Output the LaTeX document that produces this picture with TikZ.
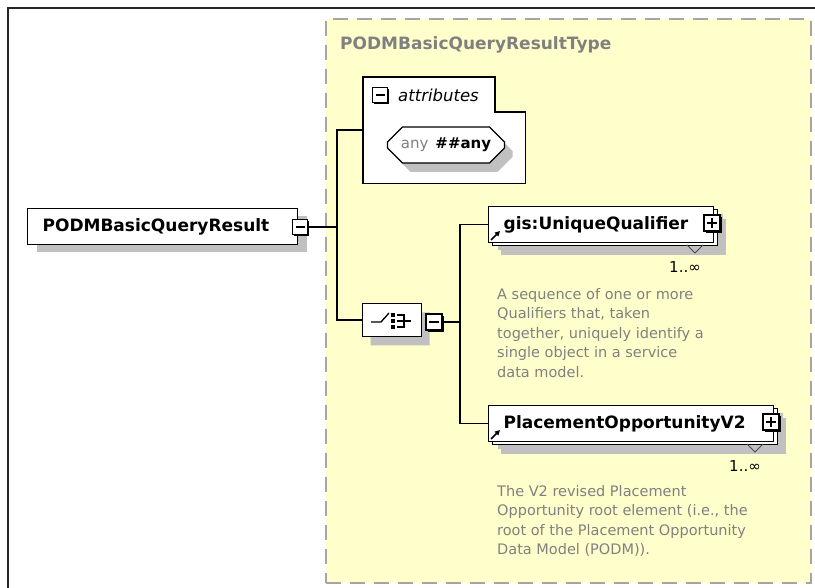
\documentclass[tikz,border=0pt]{standalone}
\usepackage{fontspec}
\setmainfont{DejaVu Sans}
\usetikzlibrary{arrows.meta,positioning,shadows,shapes.misc}

\definecolor{typeYellow}{RGB}{255,255,204}
\definecolor{dashGray}{RGB}{165,165,165}
\definecolor{shadeGray}{RGB}{192,192,192}
\definecolor{noteGray}{RGB}{128,128,128}

\begin{document}
\begin{tikzpicture}[
    x=1pt, y=-1pt,
    >={Triangle[length=5pt,width=5pt]},
    elem/.style={draw,fill=white,line width=1.2pt,anchor=north west,
                 minimum height=36pt,inner xsep=15pt,inner ysep=0pt,align=left,
                 text width=#1,font=\fontsize{17}{20}\selectfont\bfseries,
                 general shadow={fill=shadeGray,shadow xshift=9pt,shadow yshift=-7pt}},
    refelem/.style={elem=#1,
                 general shadow={fill=shadeGray,shadow xshift=12pt,shadow yshift=-12pt},
                 general shadow={fill=white,draw=black,line width=1.2pt,
                                 shadow xshift=4pt,shadow yshift=-3pt}},
    btn/.style={draw,fill=white,line width=1.1pt,minimum size=15pt,inner sep=0pt,
                general shadow={fill=black,shadow xshift=1.8pt,shadow yshift=-1.8pt}},
    minusbtn/.style={btn,path picture={
        \draw[line width=1.1pt] ([xshift=3pt]path picture bounding box.west)
          -- ([xshift=-3pt]path picture bounding box.east);}},
    plusbtn/.style={btn,path picture={
        \draw[line width=1.1pt] ([xshift=3pt]path picture bounding box.west)
          -- ([xshift=-3pt]path picture bounding box.east)
          ([yshift=-3pt]path picture bounding box.north)
          -- ([yshift=3pt]path picture bounding box.south);}},
    octa/.style={chamfered rectangle,chamfered rectangle xsep=8pt,
                 chamfered rectangle ysep=8pt,draw,fill=white,line width=1.2pt,
                 inner sep=0pt,
                 general shadow={fill=shadeGray,shadow xshift=8pt,shadow yshift=-9pt}},
    link/.style={line width=1.4pt},
    refarrow/.style={->,line width=1.6pt},
    note/.style={anchor=north west,align=left,text=noteGray,inner sep=0pt,
                 font=\fontsize{14.5}{19.5}\selectfont},
    mult/.style={font=\fontsize{15}{18}\selectfont,inner sep=0pt},
  ]
  \useasboundingbox (0,0) rectangle (815,588);

  % --- outer frame ---
  \draw[line width=2pt,black!85] (8,588) -- (8,8) -- (815,8);

  % --- complex type ---
  \node[draw=dashGray,fill=typeYellow,line width=2pt,dash pattern=on 15pt off 9pt,
        anchor=north west,minimum width=485pt,minimum height=564pt,inner sep=0pt]
        (ctype) at (325,18) {};
  \node[anchor=west,text=noteGray,inner sep=0pt,font=\fontsize{17}{20}\selectfont\bfseries]
        (ctitle) at (340,45) {PODMBasicQueryResultType};

  % --- root element ---
  \node[elem=240pt,minimum width=270pt] (root) at (27,208) {PODMBasicQueryResult};
  \node[minusbtn] (rootbtn) at (300,227) {};

  % --- attributes ---
  \node[anchor=north west,minimum width=162pt,minimum height=106pt,inner sep=0pt]
        (attrs) at (363,77) {};
  \draw[line width=1.2pt,fill=white] (attrs.north west) -- ++(132,0) -- ++(0,35)
        -- (attrs.east |- 0,112) -- (attrs.south east) -- (attrs.south west) -- cycle;
  \node[minusbtn] (attrbtn) at (380,95) {};
  \node[anchor=west,inner sep=0pt,font=\fontsize{16.5}{19}\selectfont\itshape]
        (attrlbl) at (398,95) {attributes};
  \node[octa,minimum width=117pt,minimum height=36pt,font=\fontsize{15}{18}\selectfont]
        (anyattr) at (446,145) {\textcolor{noteGray}{any}\hspace{7pt}\textbf{\#\#any}};

  % --- sequence compositor ---
  \node[octa,minimum width=59pt,minimum height=33pt] (seq) at (392,320) {};
  \begin{scope}[shift={(seq.center)},line width=1.3pt]
    \draw (-21,2) -- (-11,2) -- (-3,-7);
    \foreach \dy in {-7,-1,5}
      \fill (-1,\dy) rectangle (3,\dy+4);
    \draw (5,-5) -- (12,-5) -- (12,7) -- (5,7);
    \draw (5,1) -- (19,1);
  \end{scope}
  \node[minusbtn,minimum size=16pt] (seqbtn) at (434,322) {};

  % --- child elements ---
  \node[refelem=195pt,minimum width=225pt] (uq) at (488,206) {gis:UniqueQualifier};
  \node[plusbtn,minimum size=16pt] (uqbtn) at (712,223) {};
  \draw[refarrow] (491,240) -- (500,231);
  \draw[line width=1pt,black!70] (687,245) -- (695,253) -- (703,245);
  \node[mult] (uqmult) at (685,267) {1..∞};
  \node[note] (uqnote) at (497,288) {A sequence of one or more\\Qualifiers that, taken\\together, uniquely identify a\\single object in a service\\data model.};

  \node[refelem=255pt,minimum width=285pt] (po) at (488,405) {PlacementOpportunityV2};
  \node[plusbtn,minimum size=16pt] (pobtn) at (771,422) {};
  \draw[refarrow] (491,439) -- (500,430);
  \draw[line width=1pt,black!70] (747,444) -- (755,452) -- (763,444);
  \node[mult] (pomult) at (745,466) {1..∞};
  \node[note] (ponote) at (497,485) {The V2 revised Placement\\Opportunity root element (i.e., the\\root of the Placement Opportunity\\Data Model (PODM)).};

  % --- connectors ---
  \coordinate (bus1) at (337,227);
  \coordinate (bus2) at (460,322);
  \draw[link] (rootbtn.east) -- (bus1);
  \draw[link] (attrs.west) -| (bus1) |- (seq.west);
  \draw[link] (seqbtn.east) -- (bus2);
  \draw[link] (uq.west) -| (bus2) |- (po.west);

\end{tikzpicture}
\end{document}
